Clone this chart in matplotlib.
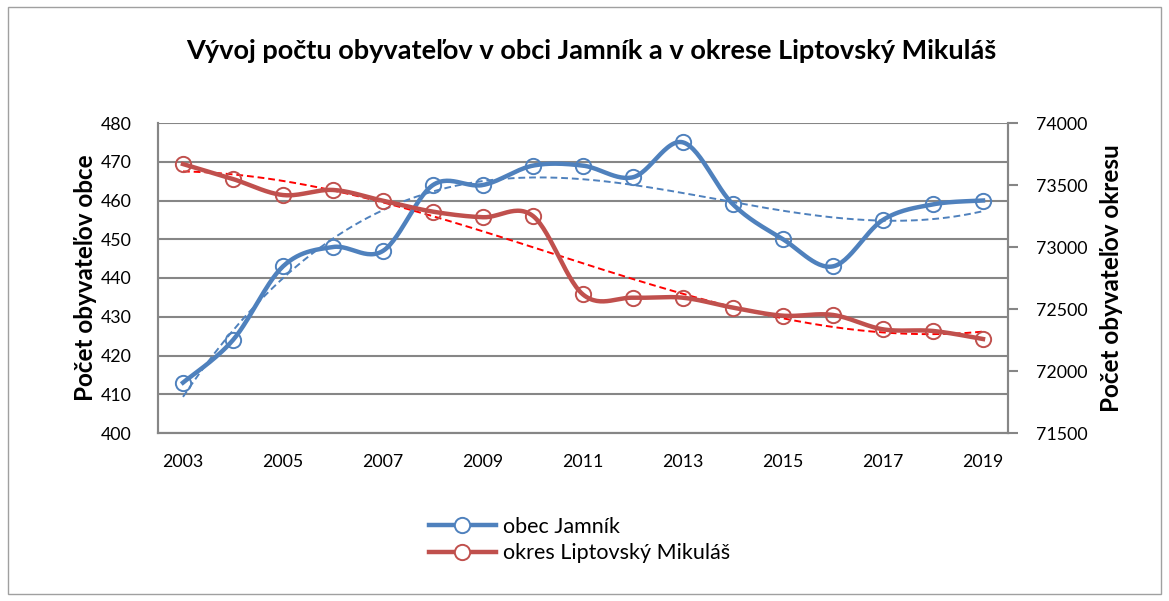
"""Population trend: village Jamník vs. district Liptovský Mikuláš (Excel-style smoothed lines)."""
import numpy as np
import matplotlib as mpl
import matplotlib.pyplot as plt
from matplotlib.patches import Rectangle
from matplotlib.lines import Line2D

mpl.rcParams["font.family"] = ["Lato", "DejaVu Sans"]

years = [2003, 2004, 2005, 2006, 2007, 2008, 2009, 2010, 2011,
         2012, 2013, 2014, 2015, 2016, 2017, 2018, 2019]
jamnik = [413, 424, 443, 448, 447, 464, 464, 469, 469,
          466, 475, 459, 450, 443, 455, 459, 460]
okres = [73669, 73548, 73419, 73460, 73373, 73285, 73240, 73250, 72617,
         72591, 72591, 72511, 72446, 72452, 72336, 72323, 72258]
x_labels = ["2003", "2005", "2007", "2009", "2011", "2013", "2015", "2017", "2019"]

C_BLUE = "#4F81BD"
C_RED = "#C0504D"
C_GRID = "#868686"


def smooth(x, y, n=30):
    # Excel-like smoothing: cubic Bezier with Catmull-Rom control points
    x = np.asarray(x, float)
    y = np.asarray(y, float)
    px, py = [], []
    for i in range(len(x) - 1):
        x0, y0 = (x[i - 1], y[i - 1]) if i > 0 else (x[i], y[i])
        x3, y3 = (x[i + 2], y[i + 2]) if i + 2 < len(x) else (x[i + 1], y[i + 1])
        c1 = (x[i] + (x[i + 1] - x0) / 6, y[i] + (y[i + 1] - y0) / 6)
        c2 = (x[i + 1] - (x3 - x[i]) / 6, y[i + 1] - (y3 - y[i]) / 6)
        t = np.linspace(0, 1, n)
        bx = ((1 - t) ** 3 * x[i] + 3 * (1 - t) ** 2 * t * c1[0]
              + 3 * (1 - t) * t ** 2 * c2[0] + t ** 3 * x[i + 1])
        by = ((1 - t) ** 3 * y[i] + 3 * (1 - t) ** 2 * t * c1[1]
              + 3 * (1 - t) * t ** 2 * c2[1] + t ** 3 * y[i + 1])
        px.extend(bx)
        py.extend(by)
    return np.array(px), np.array(py)


def trend(x, y, deg):
    k = np.arange(1, len(x) + 1)
    coef = np.polyfit(k, y, deg)
    kk = np.linspace(1, len(x), 200)
    return kk + x[0] - 1, np.polyval(coef, kk)


fig = plt.figure(figsize=(11.69, 6.01), dpi=100)
fig.patch.set_facecolor("white")
fig.add_artist(Rectangle((0.007, 0.012), 0.986, 0.976, transform=fig.transFigure,
                         fill=False, ec="#A0A0A0", lw=1.0))

ax = fig.add_axes([158 / 1169, 1 - 433 / 601, 850 / 1169, 310 / 601])
ax2 = ax.twinx()

ax.set_xlim(years[0] - 0.5, years[-1] + 0.5)
ax.set_ylim(400, 480)
ax.set_yticks(range(400, 481, 10))
ax2.set_ylim(71500, 74000)
ax2.set_yticks(range(71500, 74001, 500))
ax.set_xticks(years[::2])
ax.set_xticklabels(x_labels)

ax.yaxis.grid(True, color=C_GRID, lw=1.5)
ax.set_axisbelow(True)
for a in (ax, ax2):
    for s in a.spines.values():
        s.set_color(C_GRID)
        s.set_linewidth(1.5)
    a.spines["top"].set_visible(False)
ax.tick_params(axis="y", length=0, labelsize=12.8, pad=19)
ax.tick_params(axis="x", length=0, labelsize=12.8, pad=15)
ax2.tick_params(axis="y", length=7, width=1.5, color=C_GRID, labelsize=12.8, pad=13)

# data lines
sx, sy = smooth(years, jamnik)
ax.plot(sx, sy, color=C_BLUE, lw=3.2, zorder=3)
ax.plot(years, jamnik, "o", ms=11, mfc="none", mec=C_BLUE, mew=1.4, zorder=4)
tx, ty = trend(years, jamnik, 3)
ax.plot(tx, ty, "--", color=C_BLUE, lw=1.4, dashes=(3.5, 2), zorder=2)

sx, sy = smooth(years, okres)
ax2.plot(sx, sy, color=C_RED, lw=3.2, zorder=3)
ax2.plot(years, okres, "o", ms=11, mfc="none", mec=C_RED, mew=1.4, zorder=4)
tx, ty = trend(years, okres, 3)
ax2.plot(tx, ty, "--", color="#FF0000", lw=1.4, dashes=(3.5, 2), zorder=2)

ax.set_ylabel("Počet obyvateľov obce", fontsize=17.5, fontweight="bold", labelpad=3)
ax2.set_ylabel("Počet obyvateľov okresu", fontsize=17.5, fontweight="bold", labelpad=9)

fig.text(0.506, 1 - 51 / 601, "Vývoj počtu obyvateľov v obci Jamník a v okrese Liptovský Mikuláš",
         ha="center", va="center", fontsize=19.5, fontweight="bold")

handles = [
    Line2D([], [], color=C_BLUE, lw=3.2, marker="o", ms=11, mfc="white", mec=C_BLUE, mew=1.4),
    Line2D([], [], color=C_RED, lw=3.2, marker="o", ms=11, mfc="white", mec=C_RED, mew=1.4),
]
fig.legend(handles, ["obec Jamník", "okres Liptovský Mikuláš"],
           loc="center left", bbox_to_anchor=(418 / 1169, 1 - 540 / 601),
           frameon=False, fontsize=15.5, handlelength=3.1, handletextpad=0.35,
           labelspacing=0.3, borderpad=0)

fig.savefig("out.png", dpi=100, facecolor="white")
